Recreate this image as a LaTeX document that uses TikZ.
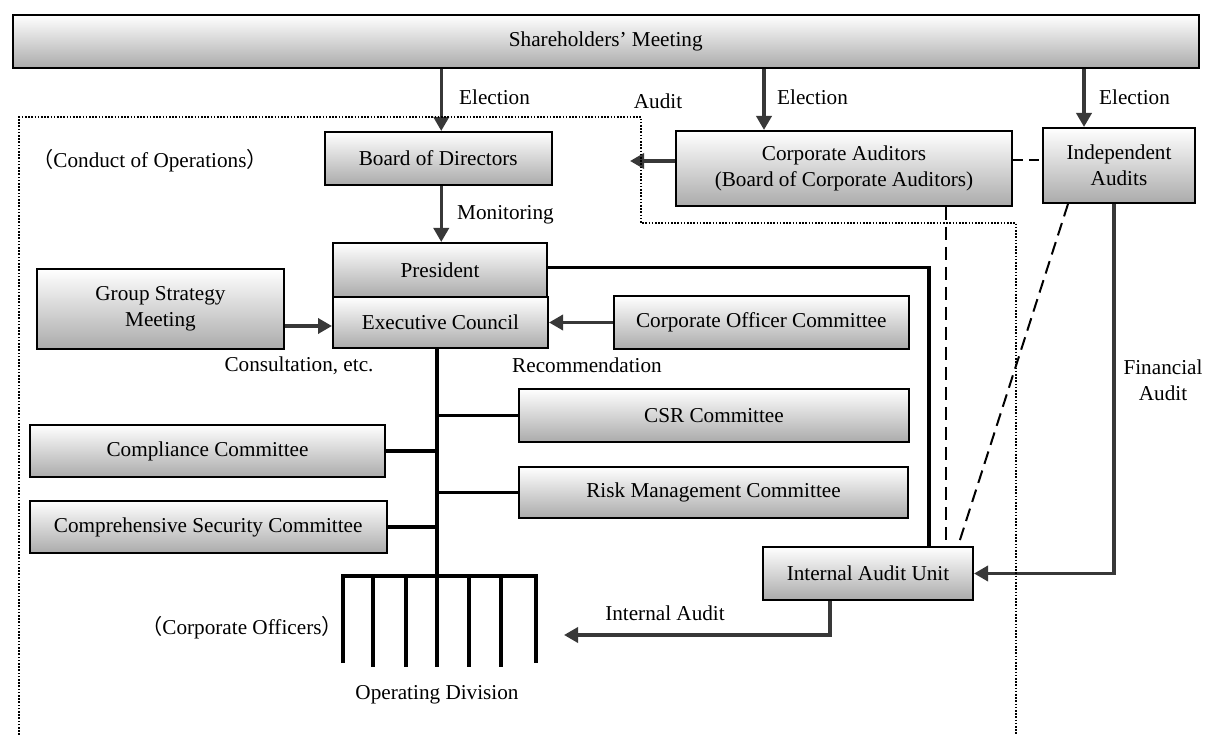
\documentclass[tikz,border=0pt]{standalone}
\usepackage{fontspec}
\setmainfont{Liberation Serif}
\newfontfamily\cjkfont{Noto Sans CJK JP}
\usetikzlibrary{arrows.meta,calc}
\begin{document}
\begin{tikzpicture}[x=1pt,y=-1pt,
  every node/.style={font=\fontsize{21.2}{26}\selectfont, inner sep=0pt},
  box/.style={draw=black, line width=2pt, top color=white, bottom color=black!33, align=center},
  arr/.style={draw=black!78, line width=3.5pt, -{Triangle[length=14pt,width=15pt]}},
  tree/.style={draw=black, line width=3.5pt},
  dashline/.style={draw=black, line width=2pt, dash pattern=on 13pt off 7pt},
  dotline/.style={draw=black, line width=1.6pt, dash pattern=on 1.6pt off 1.6pt}]
\useasboundingbox (0,0) rectangle (1205,735);
% boxes
\node[box, minimum width=1186.5pt, minimum height=53pt] (sh) at (605.75,41.5) {Shareholders’ Meeting};
\node[box, minimum width=227.5pt, minimum height=53pt] (board) at (438.25,158.5) {Board of Directors};
\node[box, minimum width=336pt, minimum height=75pt] (ca) at (844,168.5) {Corporate Auditors\\(Board of Corporate Auditors)};
\node[box, minimum width=152pt, minimum height=75pt] (ind) at (1119,165.5) {Independent\\Audits};
\node[box, minimum width=214pt, minimum height=54pt] (pres) at (440,270) {President};
\node[box, minimum width=215pt, minimum height=51pt] (exec) at (440.5,322.5) {Executive Council};
\node[box, minimum width=247pt, minimum height=80pt] (gsm) at (160.5,309) {Group Strategy\\Meeting};
\node[box, minimum width=295.5pt, minimum height=53pt] (coc) at (761.25,322.5) {Corporate Officer Committee};
\node[box, minimum width=390pt, minimum height=53pt] (csr) at (714,415.5) {CSR Committee};
\node[box, minimum width=355pt, minimum height=52pt] (comp) at (207.5,451) {Compliance Committee};
\node[box, minimum width=389pt, minimum height=51pt] (risk) at (713.5,492.5) {Risk Management Committee};
\node[box, minimum width=356.5pt, minimum height=52pt] (cse) at (208.25,527) {Comprehensive Security Committee};
\node[box, minimum width=210pt, minimum height=53pt] (iau) at (868,573.5) {Internal Audit Unit};
% coordinates
\coordinate (e1) at ([xshift=3pt]board.north);
\coordinate (e2) at ([xshift=89pt]ca.north west);
\coordinate (e3) at ([xshift=42pt]ind.north west);
\coordinate (audittip) at (630,161);
\coordinate (iatip) at (564,635);
\coordinate (fork) at (437,576);
% arrows
\draw[arr] (e1 |- sh.south) -- (e1);
\draw[arr] (board.south -| e1) -- (pres.north -| e1);
\draw[arr] (e2 |- sh.south) -- (e2);
\draw[arr] (e3 |- sh.south) -- (e3);
\draw[arr] ([yshift=7.5pt]ca.west) -- (audittip);
\draw[arr] ([yshift=-17pt]gsm.east) -- ([yshift=-17pt]gsm.east -| exec.west);
\draw[arr] (coc.west) -- (coc.west -| exec.east);
\draw[arr] ([xshift=-5pt]ind.south) |- (iau.east);
\draw[arr] ([xshift=-38pt]iau.south) |- (iatip);
% tree
\draw[tree] ([yshift=2.5pt]pres.east) -| ([xshift=61pt]iau.north);
\draw[tree] (fork |- exec.south) -- (fork);
\draw[tree] (fork |- csr.west) -- (csr.west);
\draw[tree] (comp.east) -- (comp.east -| fork);
\draw[tree] (fork |- risk.west) -- (risk.west);
\draw[tree] (cse.east) -- (cse.east -| fork);
\draw[tree, line join=miter] (343,663) -- (343,576) -- (536,576) -- (536,663);
\foreach \x in {373,406,437,469,501} \draw[tree] (\x,576) -- (\x,667);
% dashed
\draw[dashline] ([xshift=102pt]ca.south) -- ([xshift=78pt]iau.north);
\draw[dashline] ([xshift=-51pt]ind.south) -- ([xshift=90pt]iau.north);
\draw[dashline, dash pattern=on 10pt off 6pt] ([yshift=8.5pt]ca.east) -- ([yshift=8.5pt]ca.east -| ind.west);
% dotted region
\draw[dotline] (19,735) -- (19,117) -- (641,117) -- (641,223) -- (1016,223) -- (1016,735);
% labels
\node[anchor=west] (l1) at (459,97) {Election};
\node[anchor=west] (l2) at (777,97) {Election};
\node[anchor=west] (l3) at (1099,97) {Election};
\node (l4) at (658,101) {Audit};
\node[anchor=west] (l5) at (457,215) {Monitoring};
\node (l6) at (299,366) {Consultation, etc.};
\node (l7) at (587,365) {Recommendation};
\node[align=center] (l8) at (1163,380) {Financial\\Audit};
\node (l9) at (665,613) {Internal Audit};
\node (l10) at (437,695) {Operating Division};
\node (l11) at (150,161) {{\cjkfont （}Conduct of Operations{\cjkfont ）}};
\node (l12) at (242,628) {{\cjkfont （}Corporate Officers{\cjkfont ）}};
\end{tikzpicture}
\end{document}
